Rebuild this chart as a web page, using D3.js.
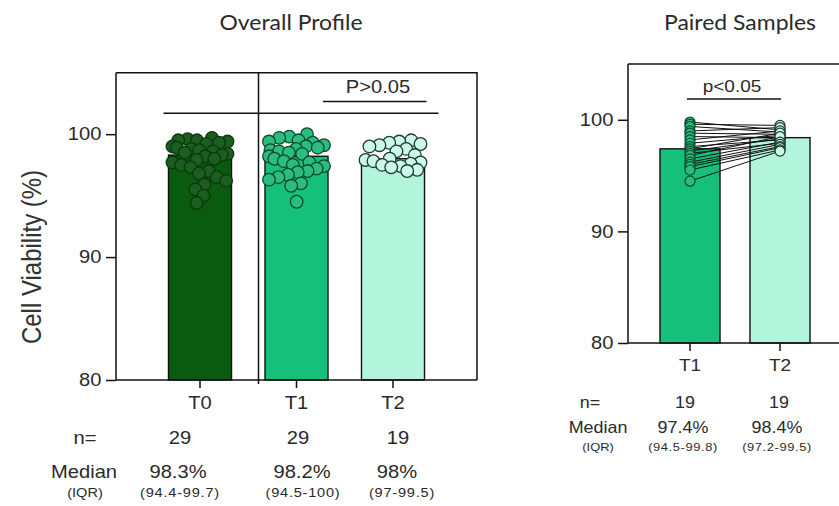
<!DOCTYPE html>
<html>
<head>
<meta charset="utf-8">
<script src="https://cdn.jsdelivr.net/npm/d3@7/dist/d3.min.js"></script>
<style>
  html, body { margin: 0; padding: 0; background: #fff; }
  svg { display: block; }
  text { font-family: "Liberation Sans", Arial, sans-serif; fill: #2a2a2a; }
  .title { font-family: Lato, "Open Sans", sans-serif; }
</style>
</head>
<body>
<svg id="chart" width="839" height="506"></svg>
<script>
// ---- Overall profile: all samples per time point ----
const overallGroups = ["T0", "T1", "T2"];
const overallN = [29, 29, 19];
const overallMedian = [98.3, 98.2, 98.0];
const overallIQR = ["(94.4-99.7)", "(94.5-100)", "(97-99.5)"];
const valuesT0 = [99.7, 99.6, 99.5, 99.5, 99.4, 99.3, 99.2, 99.0, 98.9, 98.8, 98.7, 98.6, 98.5, 98.4, 98.3,
                  98.2, 98.0, 97.9, 97.7, 97.5, 97.3, 97.0, 96.8, 96.5, 96.2, 95.9, 95.5, 95.0, 94.4];
const valuesT1 = [100.0, 99.8, 99.7, 99.5, 99.4, 99.3, 99.1, 99.0, 98.9, 98.8, 98.7, 98.6, 98.5, 98.4, 98.2,
                  98.0, 97.8, 97.7, 97.5, 97.4, 97.2, 97.0, 96.9, 96.7, 96.5, 96.3, 96.0, 95.8, 94.5];
const valuesT2 = [99.5, 99.4, 99.3, 99.2, 99.1, 99.0, 98.8, 98.6, 98.3, 98.0,
                  97.9, 97.8, 97.7, 97.6, 97.5, 97.4, 97.3, 97.1, 97.0];
const overallPText = "P>0.05";

// ---- Paired samples: T1 vs T2 in the same subjects ----
const pairedGroups = ["T1", "T2"];
const pairedN = [19, 19];
const pairedMedian = [97.4, 98.4];
const pairedIQR = ["(94.5-99.8)", "(97.2-99.5)"];
const pairedT1 = [99.8, 99.6, 99.4, 99.0, 98.8, 98.5, 98.2, 97.9, 97.6, 97.4, 97.2, 97.0, 96.8, 96.5, 96.2, 96.0, 95.8, 95.5, 94.5];
const pairedT2 = [99.1, 99.5, 98.9, 99.3, 98.7, 98.4, 99.0, 98.6, 98.2, 98.8, 98.3, 97.9, 98.5, 98.0, 97.8, 97.6, 97.5, 97.3, 97.2];
const pairedPText = "p<0.05";

const yTicks = [80, 90, 100];
const yLabel = "Cell Viability (%)";

// ---- colours ----
const barFill = { T0: "#0a5a10", T1: "#14c07a", T2: "#b3f5dc" };
const dotFill = { T0: "#1b5e20", T1: "#2bbd80", T2: "#cbf8e7" };
const dotStroke = { T0: "#0b380d", T1: "#0c4a2c", T2: "#1c3b2f" };

const svg = d3.select("#chart");
const ink = "#111";
const SX = 1.12; // the lettering is set slightly wide

// text placed at (x, y) and widened horizontally
function label(x, y, str, size, opts = {}) {
  const sx = opts.sx || SX;
  const t = svg.append("text")
    .attr("transform", `translate(${x},${y}) scale(${sx},1)` + (opts.rotate ? ` rotate(${opts.rotate})` : ""))
    .attr("text-anchor", opts.anchor || "middle")
    .attr("font-size", size)
    .text(str);
  if (opts.cls) t.attr("class", opts.cls);
  if (opts.spacing) t.attr("letter-spacing", opts.spacing);
  if (opts.fill) t.style("fill", opts.fill);
  return t;
}

function styleAxis(ax, fontSize) {
  ax.selectAll(".tick line").attr("stroke", ink).attr("stroke-width", 1.5);
  ax.selectAll(".tick text").attr("font-size", fontSize)
    .attr("font-family", "Liberation Sans, Arial, sans-serif").attr("fill", "#2a2a2a")
    .attr("transform", `scale(${SX},1)`);
}

// ================= Left panel =================
const L = { left: 116, right: 477, top: 72.7, bottom: 380 };
const yL = d3.scaleLinear().domain([80, 105]).range([L.bottom, L.top]);
const xL = d3.scaleBand().domain(overallGroups).range([151.75, 441.25])
  .paddingInner(0.347).paddingOuter(0.1735);

const gL = svg.append("g");

gL.selectAll("rect.bar").data(overallGroups).join("rect")
  .attr("x", d => xL(d)).attr("width", xL.bandwidth())
  .attr("y", (d, i) => yL(overallMedian[i]))
  .attr("height", (d, i) => yL(80) - yL(overallMedian[i]))
  .attr("fill", d => barFill[d]).attr("stroke", ink).attr("stroke-width", 1.4);

// individual samples, spread sideways so the dots don't stack
function swarm(values, cx, half, r) {
  const nodes = values.map(v => ({ v, x: cx, y: yL(v), fy: yL(v) }));
  const sim = d3.forceSimulation(nodes)
    .force("x", d3.forceX(cx).strength(0.04))
    .force("collide", d3.forceCollide(r * 0.8))
    .stop();
  for (let i = 0; i < 240; i++) {
    sim.tick();
    nodes.forEach(n => { n.x = Math.max(cx - half, Math.min(cx + half, n.x)); });
  }
  return nodes;
}
const seriesL = { T0: valuesT0, T1: valuesT1, T2: valuesT2 };
const rL = 6.3;
overallGroups.forEach(g => {
  const cx = xL(g) + xL.bandwidth() / 2;
  const nodes = swarm(seriesL[g], cx, xL.bandwidth() / 2 - 4, rL);
  gL.append("g").selectAll("circle").data(nodes).join("circle")
    .attr("cx", d => d.x).attr("cy", d => d.y).attr("r", rL)
    .attr("fill", dotFill[g]).attr("stroke", dotStroke[g]).attr("stroke-width", 1.3);
});

// frame: top, right, divider between T0 and the later time points
gL.append("path")
  .attr("d", `M${L.left},${L.top}H${L.right}V${L.bottom}`)
  .attr("fill", "none").attr("stroke", ink).attr("stroke-width", 1.5);
gL.append("line").attr("x1", 258.5).attr("x2", 258.5).attr("y1", L.top).attr("y2", L.bottom + 4)
  .attr("stroke", ink).attr("stroke-width", 1.5);

const axL = gL.append("g").attr("transform", `translate(${L.left},0)`)
  .call(d3.axisLeft(yL).tickValues(yTicks).tickSize(10).tickPadding(3));
axL.select(".domain").attr("d", `M0,${L.bottom}V${L.top}`).attr("stroke", ink).attr("stroke-width", 1.5);
styleAxis(axL, 18);

const axLB = gL.append("g").attr("transform", `translate(0,${L.bottom})`)
  .call(d3.axisBottom(xL).tickSize(8).tickPadding(8));
axLB.select(".domain").attr("d", `M${L.left},0H${L.right}`).attr("stroke", ink).attr("stroke-width", 1.5);
styleAxis(axLB, 18);

// comparison brackets
const bracketLong = 101.7, bracketShort = 102.65;
gL.append("line")
  .attr("x1", xL("T0") - 5).attr("x2", xL("T2") + xL.bandwidth() + 14)
  .attr("y1", yL(bracketLong)).attr("y2", yL(bracketLong)).attr("stroke", ink).attr("stroke-width", 1.5);
gL.append("line")
  .attr("x1", xL("T1") + xL.bandwidth() - 5).attr("x2", xL("T2") + xL.bandwidth() + 2)
  .attr("y1", yL(bracketShort)).attr("y2", yL(bracketShort)).attr("stroke", ink).attr("stroke-width", 1.5);
label(378, yL(bracketShort) - 9, overallPText, 18);

// y label
label(41, 257, yLabel, 24, { rotate: -90, fill: "#333" });

// title
label(291, 30, "Overall Profile", 20.5, { cls: "title" });

// stats table under the axis
const statOffL = { n: [-20, 1.5, 5], med: [-22, 5.5, 4], iqr: [-20, 6.5, 9] };
label(85, 444, "n=", 18);
label(84, 478, "Median", 18);
label(85, 497, "(IQR)", 13);
overallGroups.forEach((g, i) => {
  const cx = xL(g) + xL.bandwidth() / 2;
  label(cx + statOffL.n[i], 444, overallN[i], 18);
  label(cx + statOffL.med[i], 478, overallMedian[i] + "%", 18);
  label(cx + statOffL.iqr[i], 497, overallIQR[i], 13, { spacing: 0.7 });
});

// ================= Right panel =================
const R = { left: 628, right: 839, top: 64, bottom: 343 };
const yR = d3.scaleLinear().domain([80, 105]).range([R.bottom, R.top]);
const xR = d3.scaleBand().domain(pairedGroups).range([645, 825])
  .paddingInner(0.333).paddingOuter(0.1665);
const gR = svg.append("g");

gR.selectAll("rect.bar").data(pairedGroups).join("rect")
  .attr("x", d => xR(d)).attr("width", xR.bandwidth())
  .attr("y", (d, i) => yR(pairedMedian[i]))
  .attr("height", (d, i) => yR(80) - yR(pairedMedian[i]))
  .attr("fill", d => barFill[d]).attr("stroke", ink).attr("stroke-width", 1.4);

const cxR1 = xR("T1") + xR.bandwidth() / 2;
const cxR2 = xR("T2") + xR.bandwidth() / 2;
const pairs = pairedT1.map((v, i) => ({ a: v, b: pairedT2[i] }));

gR.append("g").selectAll("line").data(pairs).join("line")
  .attr("x1", cxR1).attr("x2", cxR2)
  .attr("y1", d => yR(d.a)).attr("y2", d => yR(d.b))
  .attr("stroke", "#111").attr("stroke-width", 1);
const rR = 5;
gR.append("g").selectAll("circle").data(pairedT1).join("circle")
  .attr("cx", cxR1).attr("cy", d => yR(d)).attr("r", rR)
  .attr("fill", dotFill.T1).attr("stroke", dotStroke.T1).attr("stroke-width", 1.2);
gR.append("g").selectAll("circle").data(pairedT2).join("circle")
  .attr("cx", cxR2).attr("cy", d => yR(d)).attr("r", rR)
  .attr("fill", dotFill.T2).attr("stroke", dotStroke.T2).attr("stroke-width", 1.2);

gR.append("path").attr("d", `M${R.left},${R.top}H${R.right}`)
  .attr("stroke", ink).attr("stroke-width", 1.5).attr("fill", "none");

const axR = gR.append("g").attr("transform", `translate(${R.left},0)`)
  .call(d3.axisLeft(yR).tickValues(yTicks).tickSize(10).tickPadding(3));
axR.select(".domain").attr("d", `M0,${R.bottom}V${R.top}`).attr("stroke", ink).attr("stroke-width", 1.5);
styleAxis(axR, 18);

const axRB = gR.append("g").attr("transform", `translate(0,${R.bottom})`)
  .call(d3.axisBottom(xR).tickSize(8).tickPadding(8));
axRB.select(".domain").attr("d", `M${R.left},0H${R.right}`).attr("stroke", ink).attr("stroke-width", 1.5);
styleAxis(axRB, 17);

const bracketPaired = 101.86;
gR.append("line").attr("x1", cxR1 - 3).attr("x2", cxR2 + 1)
  .attr("y1", yR(bracketPaired)).attr("y2", yR(bracketPaired)).attr("stroke", ink).attr("stroke-width", 1.5);
label((cxR1 + cxR2) / 2 - 3, yR(bracketPaired) - 7, pairedPText, 17);

label(740, 30, "Paired Samples", 20.5, { cls: "title" });

const statOffR = { n: [-5, -1], med: [-7, -3], iqr: [-7, -3] };
label(590, 408, "n=", 16);
label(598, 433, "Median", 16);
label(598, 451, "(IQR)", 11.5);
pairedGroups.forEach((g, i) => {
  const cx = xR(g) + xR.bandwidth() / 2;
  label(cx + statOffR.n[i], 408, pairedN[i], 16);
  label(cx + statOffR.med[i], 433, pairedMedian[i] + "%", 16);
  label(cx + statOffR.iqr[i], 451, pairedIQR[i], 11.5, { spacing: 0.55 });
});
</script>
</body>
</html>
